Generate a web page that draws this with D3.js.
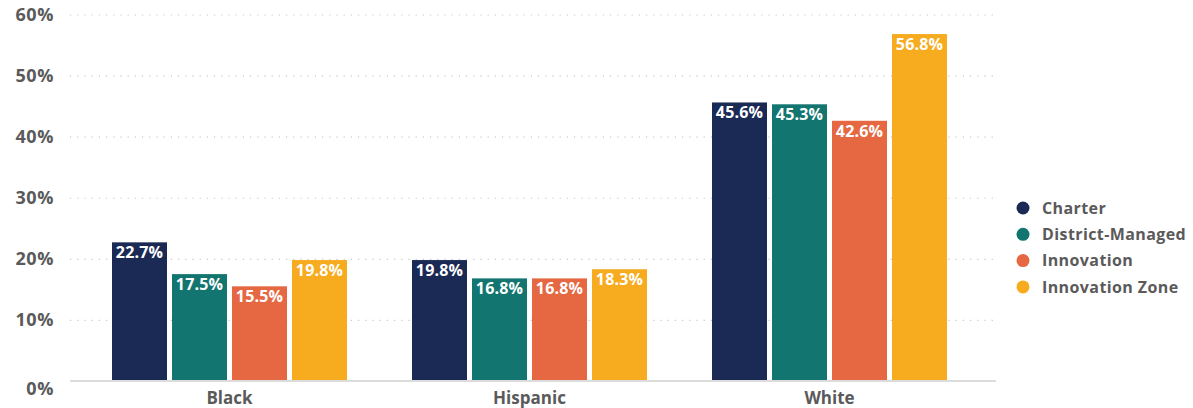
<!DOCTYPE html>
<html>
<head>
<meta charset="utf-8">
<script src="https://cdn.jsdelivr.net/npm/d3@7"></script>
<style>
  html, body { margin: 0; padding: 0; background: #fff; }
  svg { display: block; font-family: "Open Sans", "Lato", sans-serif; }
</style>
</head>
<body>
<svg id="chart" width="1193" height="408"></svg>
<script>
// Share of students by race/ethnicity and school type
const categories = ["Black", "Hispanic", "White"];
const seriesNames = ["Charter", "District-Managed", "Innovation", "Innovation Zone"];
const charter = [22.7, 19.8, 45.6];
const districtManaged = [17.5, 16.8, 45.3];
const innovation = [15.5, 16.8, 42.6];
const innovationZone = [19.8, 18.3, 56.8];
const yTicks = [0, 10, 20, 30, 40, 50, 60];
const colors = ["#1b2a55", "#127570", "#e56842", "#f7ab1f"];

const seriesValues = [charter, districtManaged, innovation, innovationZone];

const svg = d3.select("#chart");

const y = d3.scaleLinear().domain([0, 60]).range([381, 14.5]);

const x0 = d3.scaleBand()
  .domain(categories)
  .range([79.5, 979.5])
  .paddingInner(65 / 300)
  .paddingOuter(65 / 600);

const x1 = d3.scaleBand()
  .domain(seriesNames)
  .range([0, x0.bandwidth()])
  .paddingInner(5 / 60)
  .paddingOuter(0);

const color = d3.scaleOrdinal().domain(seriesNames).range(colors);

// Dotted gridlines
svg.append("g")
  .selectAll("line")
  .data(yTicks.filter(d => d > 0))
  .join("line")
  .attr("x1", 70)
  .attr("x2", 996)
  .attr("y1", d => y(d) + 0.5)
  .attr("y2", d => y(d) + 0.5)
  .attr("stroke", "#c8c8c8")
  .attr("stroke-width", 1.2)
  .attr("stroke-dasharray", "1.2,6");

// Y axis labels
const yAxis = d3.axisLeft(y).tickValues(yTicks).tickFormat(d => d + "%").tickSize(0).tickPadding(0);
svg.append("g")
  .attr("transform", "translate(54,0)")
  .call(yAxis)
  .call(g => g.select(".domain").remove())
  .selectAll("text")
  .attr("fill", "#5a5a5a")
  .attr("font-size", 18)
  .attr("font-weight", 700)
  .attr("font-family", "'Open Sans', sans-serif")
  .attr("letter-spacing", "0.6px")
  .attr("dy", d => d === 0 ? "0.75em" : "0.32em");

// Bars
const rows = categories.map((c, i) => ({
  category: c,
  values: seriesNames.map((s, j) => ({ series: s, value: seriesValues[j][i] }))
}));

const groups = svg.append("g")
  .selectAll("g")
  .data(rows)
  .join("g")
  .attr("transform", d => `translate(${x0(d.category)},0)`);

groups.selectAll("rect")
  .data(d => d.values)
  .join("rect")
  .attr("x", d => x1(d.series))
  .attr("y", d => y(d.value))
  .attr("width", x1.bandwidth())
  .attr("height", d => y(0) - y(d.value))
  .attr("fill", d => color(d.series));

groups.selectAll("text")
  .data(d => d.values)
  .join("text")
  .attr("x", d => x1(d.series) + x1.bandwidth() / 2)
  .attr("y", d => y(d.value) + 16)
  .attr("text-anchor", "middle")
  .attr("fill", "#fff")
  .attr("font-size", 16)
  .attr("font-weight", 700)
  .attr("letter-spacing", "0.2px")
  .text(d => d.value.toFixed(1) + "%");

// Baseline
svg.append("line")
  .attr("x1", 70)
  .attr("x2", 996)
  .attr("y1", y(0))
  .attr("y2", y(0))
  .attr("stroke", "#dcdcdc")
  .attr("stroke-width", 2);

// Category labels
svg.append("g")
  .selectAll("text")
  .data(categories)
  .join("text")
  .attr("x", d => x0(d) + x0.bandwidth() / 2)
  .attr("y", 404)
  .attr("text-anchor", "middle")
  .attr("fill", "#5a5a5a")
  .attr("font-size", 17)
  .attr("font-weight", 700)
  .text(d => d);

// Legend
const legend = svg.append("g")
  .selectAll("g")
  .data(seriesNames)
  .join("g")
  .attr("transform", (d, i) => `translate(1023,${208 + i * 26.3})`);

legend.append("circle")
  .attr("r", 6.5)
  .attr("fill", d => color(d));

legend.append("text")
  .attr("x", 19)
  .attr("dy", "0.35em")
  .attr("fill", "#5a5a5a")
  .attr("font-size", 16)
  .attr("font-weight", 700)
  .attr("letter-spacing", "0.4px")
  .text(d => d);
</script>
</body>
</html>
